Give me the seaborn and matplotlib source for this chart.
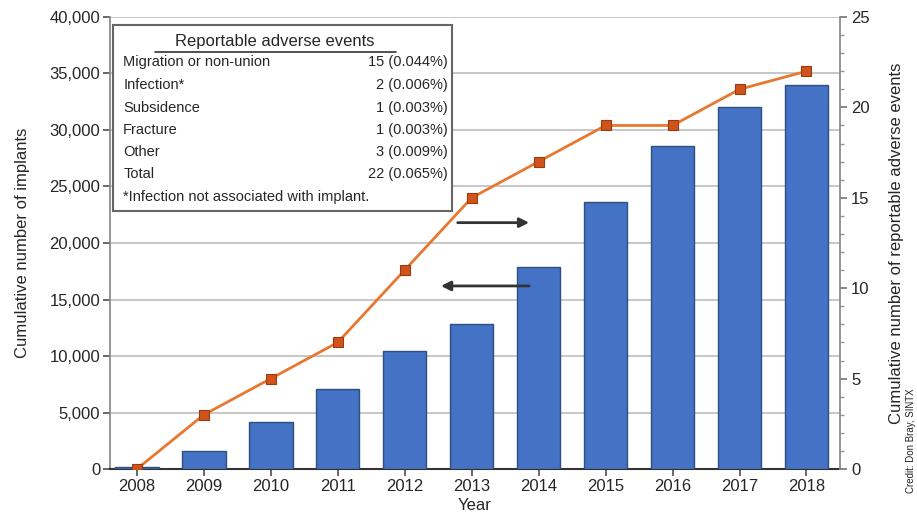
import numpy as np
import pandas as pd
import matplotlib
matplotlib.use("Agg")
import matplotlib.pyplot as plt
from matplotlib.lines import Line2D
from matplotlib.patches import Rectangle
import seaborn as sns

years = ["2008", "2009", "2010", "2011", "2012", "2013", "2014", "2015", "2016", "2017", "2018"]
implants = [150, 1600, 4200, 7100, 10400, 12800, 17900, 23600, 28600, 32000, 34000]
adverse_events = [0, 3, 5, 7, 11, 15, 17, 19, 19, 21, 22]

table_title = "Reportable adverse events"
table_labels = ["Migration or non-union", "Infection*", "Subsidence", "Fracture", "Other", "Total"]
table_values = ["15 (0.044%)", "2 (0.006%)", "1 (0.003%)", "1 (0.003%)", "3 (0.009%)", "22 (0.065%)"]
table_note = "*Infection not associated with implant."

sns.set_theme(style="white")
plt.rcParams['font.family'] = ['Liberation Sans', 'DejaVu Sans']

fig = plt.figure(figsize=(9.17, 5.14), dpi=100)
ax = fig.add_axes([0.12, 0.0875, 0.796, 0.8795])

df = pd.DataFrame({"Year": years, "Implants": implants})
sns.barplot(data=df, x="Year", y="Implants", ax=ax, color="#4472C4",
            saturation=1, width=0.65, edgecolor="#2F4F7F", linewidth=1.0, zorder=3)
ax.set_ylim(0, 40000)
ax.set_xlim(-0.4, 10.5)
ax.set_yticks(np.arange(0, 40001, 5000))
ax.set_yticklabels([f"{v:,}" for v in range(0, 40001, 5000)])
ax.yaxis.grid(True, color="#BEBEBE", linewidth=1.2, zorder=0)
ax.set_axisbelow(True)
ax.set_xlabel("Year", fontsize=12, labelpad=3)
ax.set_ylabel("Cumulative number of implants", fontsize=12, labelpad=14)
ax.tick_params(axis="both", labelsize=12, length=5, color="#555555", direction="out",
               left=True, bottom=True, pad=2)
ax.spines["top"].set_visible(False)
ax.spines["left"].set_color("#888888")
ax.spines["bottom"].set_color("#333333")
ax.spines["bottom"].set_linewidth(1.5)
ax.spines["right"].set_visible(False)

ax2 = ax.twinx()
sns.lineplot(x=np.arange(len(years)), y=adverse_events, ax=ax2, color="#E8782F",
             linewidth=2, marker="s", markersize=7, markerfacecolor="#D0531C",
             markeredgecolor="#9A3A10", markeredgewidth=0.8, zorder=5)
ax2.set_ylim(0, 25)
ax2.set_yticks(np.arange(0, 26, 5))
ax2.set_yticks(np.arange(0, 26, 1), minor=True)
ax2.tick_params(axis="y", which="major", labelsize=12, length=5, color="#777777", right=True, pad=3)
ax2.tick_params(axis="y", which="minor", length=3, color="#999999", right=True)
ax2.set_ylabel("Cumulative number of reportable adverse events", fontsize=12, labelpad=14)
for s in ["top", "left", "bottom"]:
    ax2.spines[s].set_visible(False)
ax2.spines["right"].set_color("#888888")
ax2.grid(False)
ax2.set_xlim(-0.4, 10.5)

# Table box
box = Rectangle((0.004, 0.571), 0.464, 0.411, transform=ax.transAxes, facecolor="white",
                edgecolor="#666666", linewidth=1.5, zorder=6)
ax.add_patch(box)
ax.text(0.226, 0.945, table_title, transform=ax.transAxes, ha="center", va="center",
        fontsize=12, zorder=7)
ax.add_line(Line2D([0.062, 0.392], [0.922, 0.922], transform=ax.transAxes,
                   color="#333333", linewidth=1.2, zorder=7))
row_y = [0.900, 0.850, 0.799, 0.750, 0.701, 0.653]
for yy, lab, val in zip(row_y, table_labels, table_values):
    ax.text(0.018, yy, lab, transform=ax.transAxes, ha="left", va="center", fontsize=10.5, zorder=7)
    ax.text(0.462, yy, val, transform=ax.transAxes, ha="right", va="center", fontsize=10.5, zorder=7)
ax.text(0.018, 0.602, table_note, transform=ax.transAxes, ha="left", va="center",
        fontsize=10.5, zorder=7)

# Arrows
ax.annotate("", xy=(5.9, 21800), xytext=(4.75, 21800),
            arrowprops=dict(arrowstyle="-|>", color="#333333", lw=2, mutation_scale=14), zorder=7)
ax.annotate("", xy=(4.5, 16200), xytext=(5.9, 16200),
            arrowprops=dict(arrowstyle="-|>", color="#333333", lw=2, mutation_scale=14), zorder=7)

fig.text(0.994, 0.04, "Credit: Don Bray, SINTX", rotation=90, ha="center", va="bottom",
         fontsize=7, color="#222222")

fig.savefig("out.png", dpi=100)
